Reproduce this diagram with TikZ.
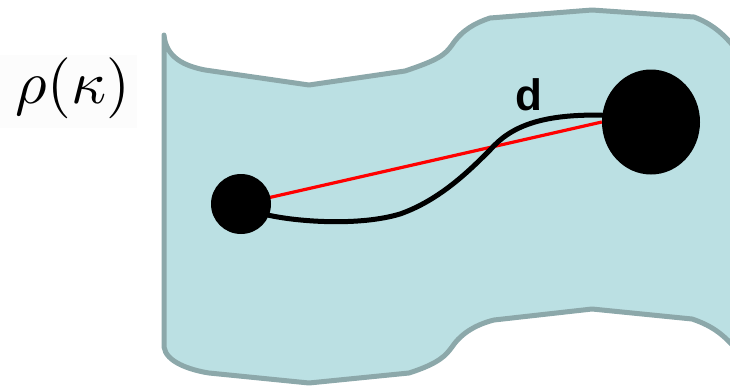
\documentclass[tikz,border=0pt]{standalone}
\usepackage{fontspec}
\newfontfamily\labelfont{Liberation Sans}
\usetikzlibrary{shapes.geometric}
\definecolor{sheetfill}{HTML}{BBE0E3}
\definecolor{sheetline}{HTML}{8CA8AA}
\definecolor{redline}{HTML}{FF0000}
\pgfdeclarelayer{bg}
\pgfdeclarelayer{lines}
\pgfsetlayers{bg,lines,main}
\begin{document}
\begin{tikzpicture}[x=1pt,y=-1pt,
  sheet/.style={fill=sheetfill,draw=sheetline,line width=5pt,line join=round},
  dot/.style={circle,fill=black,inner sep=0pt},
  bigdot/.style={ellipse,fill=black,inner sep=0pt,minimum width=98pt,minimum height=105pt},
  straight/.style={draw=redline,line width=3.2pt},
  geodesic/.style={draw=black,line width=5pt,line cap=round}]
\useasboundingbox (0,0) rectangle (730,386);
\clip (0,0) rectangle (730,386);
\begin{pgfonlayer}{bg}
\fill[black!1] (0,55) rectangle (137,128);
\path[sheet] (164,35) .. controls (166,58) and (185,66) .. (205,70)
  -- (309,85) -- (405,71)
  .. controls (438,60) and (445,55) .. (452,45)
  .. controls (462,30) and (475,23) .. (490,18)
  -- (592,10) -- (694,17)
  .. controls (710,23) and (722,32) .. (735,48)
  -- (780,80) -- (780,380) -- (735,348)
  .. controls (722,333) and (710,325) .. (692,319)
  -- (592,309) -- (494,320)
  .. controls (478,324) and (462,332) .. (452,347)
  .. controls (446,355) and (440,363) .. (409,373)
  -- (309,383) -- (209,373)
  .. controls (190,370) and (166,362) .. (164,347) -- cycle;
\end{pgfonlayer}
\node[inner sep=0pt,scale=6.1] (rho) at (73,88) {$\rho(\kappa)$};
\node[dot,minimum size=60pt] (a) at (241,204) {};
\node[bigdot] (b) at (651,122) {};
\node[inner sep=0pt] (d) at (529,95) {\labelfont\bfseries\fontsize{44}{44}\selectfont d};
\begin{pgfonlayer}{lines}
\draw[straight] (a.center) -- (b.west);
\draw[geodesic] (a.-22) .. controls (300,222) and (360,226) .. (400,214)
  .. controls (440,200) and (470,170) .. (490,150)
  .. controls (510,127) and (540,114) .. (b.172);
\end{pgfonlayer}
\end{tikzpicture}
\end{document}
